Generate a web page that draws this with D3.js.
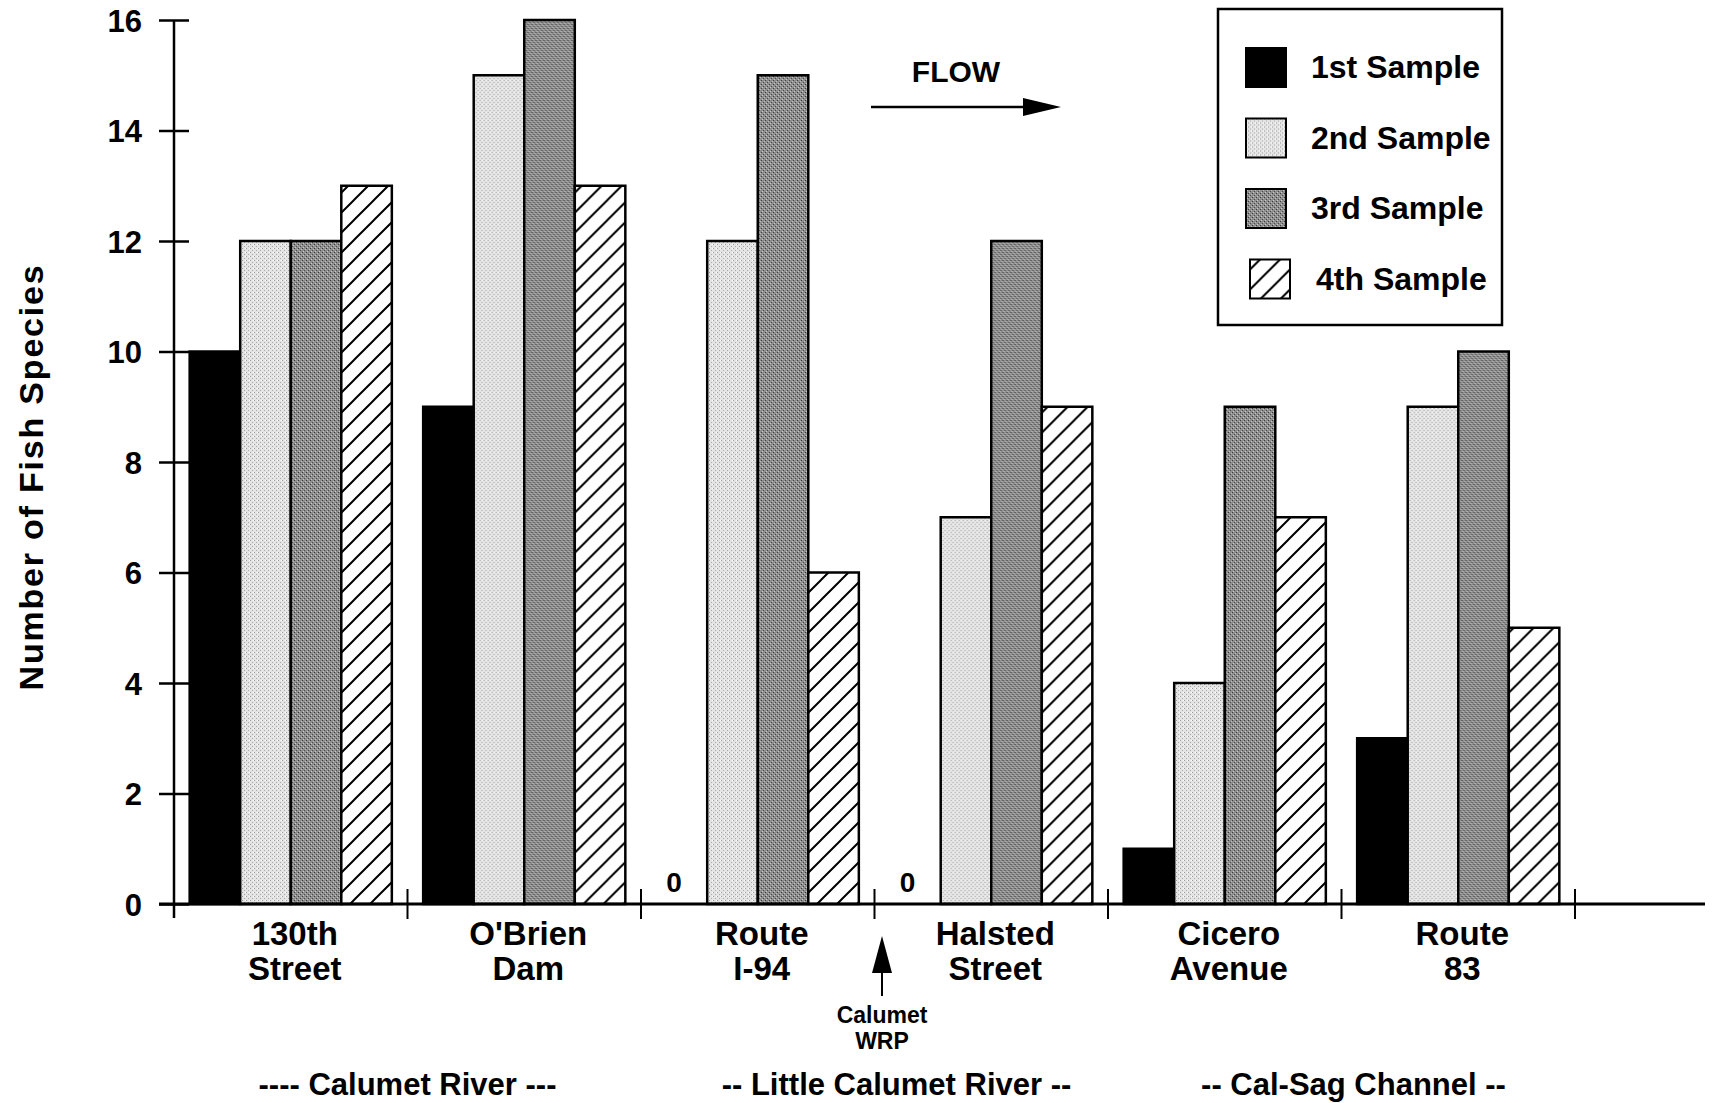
<!DOCTYPE html>
<html lang="en">

<head>
	<title>Fish species by site</title>
	<meta charset="utf-8">
	<script src="https://d3js.org/d3.v7.min.js"></script>
	<style>
		body { margin: 0; background: #fff; }
		svg { display: block; font-family: "Liberation Sans", Arial, Helvetica, sans-serif; font-weight: bold; }
	</style>
</head>

<body>
	<div id="container1"></div>
	<script>
		// Data
		const sites = ["130th Street", "O'Brien Dam", "Route I-94", "Halsted Street", "Cicero Avenue", "Route 83"];
		const siteLines = [["130th", "Street"], ["O'Brien", "Dam"], ["Route", "I-94"], ["Halsted", "Street"], ["Cicero", "Avenue"], ["Route", "83"]];
		const samples = ["1st Sample", "2nd Sample", "3rd Sample", "4th Sample"];
		const sample1 = [10, 9, 0, 0, 1, 3];
		const sample2 = [12, 15, 12, 7, 4, 9];
		const sample3 = [12, 16, 15, 12, 9, 10];
		const sample4 = [13, 13, 6, 9, 7, 5];
		const yTicks = [0, 2, 4, 6, 8, 10, 12, 14, 16];
		const rivers = ["---- Calumet River ---", "-- Little Calumet River --", "-- Cal-Sag Channel --"];
		const riverSites = [["130th Street", "O'Brien Dam"], ["Route I-94", "Halsted Street"], ["Cicero Avenue", "Route 83"]];

		const seriesValues = [sample1, sample2, sample3, sample4];
		const data = sites.map((s, i) => ({
			site: s,
			lines: siteLines[i],
			values: samples.map((k, j) => ({ sample: k, value: seriesValues[j][i] }))
		}));

		// Dimensions
		const width = 1716;
		const height = 1103;
		const axisX = 174;
		const plotRight = 1575;
		const y0 = 904;
		const yTop = 20;

		const svg = d3.select("#container1")
			.append("svg")
			.attr("width", width)
			.attr("height", height);

		// Fill patterns
		const defs = svg.append("defs");

		const light = defs.append("pattern")
			.attr("id", "light")
			.attr("patternUnits", "userSpaceOnUse")
			.attr("width", 4).attr("height", 4);
		light.append("rect").attr("width", 4).attr("height", 4).attr("fill", "#e4e4e4");
		light.append("rect").attr("x", 0).attr("y", 0).attr("width", 1).attr("height", 1).attr("fill", "#9a9a9a");
		light.append("rect").attr("x", 2).attr("y", 2).attr("width", 1).attr("height", 1).attr("fill", "#a8a8a8");
		light.append("rect").attr("x", 3).attr("y", 0).attr("width", 1).attr("height", 1).attr("fill", "#fff");

		const dark = defs.append("pattern")
			.attr("id", "dark")
			.attr("patternUnits", "userSpaceOnUse")
			.attr("width", 4).attr("height", 4);
		dark.append("rect").attr("width", 4).attr("height", 4).attr("fill", "#8e8e8e");
		dark.append("rect").attr("x", 0).attr("y", 0).attr("width", 1).attr("height", 1).attr("fill", "#3a3a3a");
		dark.append("rect").attr("x", 2).attr("y", 2).attr("width", 1).attr("height", 1).attr("fill", "#4a4a4a");
		dark.append("rect").attr("x", 1).attr("y", 3).attr("width", 1).attr("height", 1).attr("fill", "#c8c8c8");
		dark.append("rect").attr("x", 3).attr("y", 1).attr("width", 1).attr("height", 1).attr("fill", "#bdbdbd");

		const hatch = defs.append("pattern")
			.attr("id", "hatch")
			.attr("patternUnits", "userSpaceOnUse")
			.attr("width", 20).attr("height", 20);
		hatch.append("rect").attr("width", 20).attr("height", 20).attr("fill", "#fff");
		hatch.append("path")
			.attr("d", "M-5,5 L5,-5 M0,20 L20,0 M15,25 L25,15")
			.attr("stroke", "#000")
			.attr("stroke-width", 2);

		const fills = { "1st Sample": "#000", "2nd Sample": "url(#light)", "3rd Sample": "url(#dark)", "4th Sample": "url(#hatch)" };

		// Scales
		const x0 = d3.scaleBand()
			.domain(sites)
			.range([axisX, plotRight])
			.padding(0);

		const x1 = d3.scaleBand()
			.domain(samples)
			.range([0, x0.bandwidth()])
			.paddingInner(0)
			.paddingOuter(0.31);

		const y = d3.scaleLinear()
			.domain([0, 16])
			.range([y0, yTop]);

		// Bars
		const groups = svg.append("g")
			.selectAll("g")
			.data(data)
			.join("g")
			.attr("transform", d => `translate(${x0(d.site)},0)`);

		groups.selectAll("rect")
			.data(d => d.values.filter(v => v.value > 0))
			.join("rect")
			.attr("x", d => x1(d.sample))
			.attr("y", d => y(d.value))
			.attr("width", x1.bandwidth())
			.attr("height", d => y(0) - y(d.value))
			.attr("fill", d => fills[d.sample])
			.attr("stroke", "#000")
			.attr("stroke-width", 2.5);

		// Zero labels
		groups.selectAll(".zero")
			.data(d => d.values.filter(v => v.value === 0))
			.join("text")
			.attr("class", "zero")
			.attr("x", d => x1(d.sample) + x1.bandwidth() / 2 - 8)
			.attr("y", y(0) - 12)
			.attr("text-anchor", "middle")
			.style("font-size", "28px")
			.text("0");

		// Axes
		const yAxis = svg.append("g")
			.attr("transform", `translate(${axisX},0)`)
			.call(d3.axisLeft(y).tickValues(yTicks).tickSize(15));

		yAxis.select(".domain").remove();
		yAxis.selectAll(".tick line")
			.attr("x1", -15)
			.attr("x2", 15)
			.attr("stroke", "#000")
			.attr("stroke-width", 2.5);
		yAxis.selectAll(".tick text")
			.attr("x", -32)
			.attr("dy", "0.36em")
			.style("font-size", "31px")
			.style("font-family", "inherit")
			.attr("fill", "#000");

		svg.append("line")
			.attr("x1", axisX).attr("x2", axisX)
			.attr("y1", yTop).attr("y2", y0 + 14)
			.attr("stroke", "#000").attr("stroke-width", 2.5);

		svg.append("line")
			.attr("x1", axisX - 15).attr("x2", 1705)
			.attr("y1", y0).attr("y2", y0)
			.attr("stroke", "#000").attr("stroke-width", 3);

		// Group separators
		svg.append("g")
			.selectAll("line")
			.data(sites)
			.join("line")
			.attr("x1", d => x0(d) + x0.bandwidth())
			.attr("x2", d => x0(d) + x0.bandwidth())
			.attr("y1", y0 - 15)
			.attr("y2", y0 + 15)
			.attr("stroke", "#000")
			.attr("stroke-width", 2);

		// Site labels
		const siteLabels = svg.append("g")
			.selectAll("text")
			.data(data)
			.join("text")
			.attr("x", d => x0(d.site) + x0.bandwidth() / 2 + 4)
			.attr("y", 945)
			.attr("text-anchor", "middle")
			.style("font-size", "33px");

		siteLabels.selectAll("tspan")
			.data(d => d.lines)
			.join("tspan")
			.attr("x", function () { return d3.select(this.parentNode).attr("x"); })
			.attr("dy", (d, i) => i === 0 ? 0 : 35)
			.text(d => d);

		// River labels
		const riverNudge = [0, 22, 12];
		svg.append("g")
			.selectAll("text")
			.data(rivers)
			.join("text")
			.attr("x", (d, i) => {
				const a = x0(riverSites[i][0]);
				const b = x0(riverSites[i][1]) + x0.bandwidth();
				return (a + b) / 2 + riverNudge[i];
			})
			.attr("y", 1095)
			.attr("text-anchor", "middle")
			.style("font-size", "31px")
			.text(d => d);

		// Y axis title
		svg.append("text")
			.attr("transform", `translate(43,477) rotate(-90)`)
			.attr("text-anchor", "middle")
			.style("font-size", "34px")
			.style("letter-spacing", "1.8px")
			.text("Number of Fish Species");

		// Calumet WRP marker
		svg.append("line")
			.attr("x1", 882).attr("x2", 882)
			.attr("y1", 965).attr("y2", 996)
			.attr("stroke", "#000").attr("stroke-width", 2);
		svg.append("path")
			.attr("d", "M882,936 L872,973 L892,973 Z")
			.attr("fill", "#000");
		svg.append("text")
			.attr("x", 882)
			.attr("y", 1023)
			.attr("text-anchor", "middle")
			.style("font-size", "23px")
			.text("Calumet");
		svg.append("text")
			.attr("x", 882)
			.attr("y", 1049)
			.attr("text-anchor", "middle")
			.style("font-size", "23px")
			.text("WRP");

		// Flow arrow
		svg.append("text")
			.attr("x", 956)
			.attr("y", 82)
			.attr("text-anchor", "middle")
			.style("font-size", "30px")
			.text("FLOW");
		svg.append("line")
			.attr("x1", 871).attr("x2", 1030)
			.attr("y1", 107).attr("y2", 107)
			.attr("stroke", "#000").attr("stroke-width", 2.5);
		svg.append("path")
			.attr("d", "M1061,107 L1023,98 L1023,116 Z")
			.attr("fill", "#000");

		// Legend
		const legend = svg.append("g");
		legend.append("rect")
			.attr("x", 1218).attr("y", 9)
			.attr("width", 284).attr("height", 316)
			.attr("fill", "#fff")
			.attr("stroke", "#000").attr("stroke-width", 2.5);

		const items = legend.selectAll(".item")
			.data(samples)
			.join("g")
			.attr("class", "item")
			.attr("transform", (d, i) => `translate(0,${48 + i * 70.5})`);

		items.append("rect")
			.attr("x", (d, i) => i === 3 ? 1250 : 1246)
			.attr("y", 0)
			.attr("width", 40).attr("height", 39)
			.attr("fill", d => fills[d])
			.attr("stroke", "#000").attr("stroke-width", 2);

		items.append("text")
			.attr("x", (d, i) => i === 3 ? 1316 : 1311)
			.attr("y", 30)
			.style("font-size", "32px")
			.text(d => d);
	</script>
</body>

</html>
